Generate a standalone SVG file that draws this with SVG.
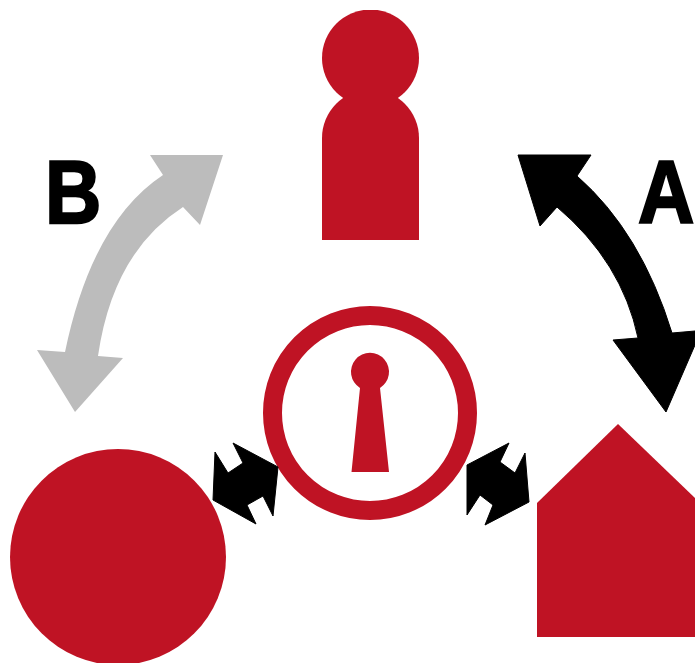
<svg xmlns="http://www.w3.org/2000/svg" width="695" height="663" viewBox="0 0 695 663">
<style>
.red{fill:#bf1324}
.blk{fill:#000;stroke:#000;stroke-width:1px;stroke-linejoin:miter}
.lbl{font-family:"Liberation Sans",Arial,sans-serif;font-weight:bold;font-size:78px;fill:#000;stroke:#000;stroke-width:2px}
</style>
<defs><clipPath id="top"><rect x="0" y="10" width="695" height="653"/></clipPath></defs>
<rect width="695" height="663" fill="#fff"/>
<g id="person" clip-path="url(#top)">
<circle class="red" cx="370.500" cy="58" r="48.500"/>
<path class="red" d="M322 240V138A48.500 48.500 0 0 1 419 138V240Z"/>
<rect class="red" x="350" y="85" width="41" height="30"/>
</g>
<g id="lock">
<circle cx="370" cy="413" r="97.500" fill="none" stroke="#bf1324" stroke-width="19"/>
<path class="red" d="M351.500 472L360 388A19 19 0 1 1 380 388L389 472Z"/>
</g>
<g id="circle-node">
<circle class="red" cx="118" cy="557" r="108"/>
</g>
<g id="house">
<path class="red" d="M537 503L618 424L695 498V637H537Z"/>
</g>
<g id="connectors">
<path class="blk" d="M518 155H591L577 176Q641 232 672 333L695 331V345L666 412L613 340L638 338Q622 262 557 207L540 226Z"/>
<path fill="#bcbcbc" d="M223 155H150L163 175Q92 222 65 352L37 350L75 412L123 358L98 356Q113 252 183 207L200 225Z"/>
<path class="blk" d="M233 443L278 467L273 516L263 496L247 505L256 524L213 500L215 452L228 473L243 463Z"/>
<path class="blk" d="M509 443L467 465L467 515L480 495L493 505L485 525L529 502L525 453L515 473L500 462Z"/>
</g>
<g id="labels">
<text class="lbl" transform="translate(45 223) scale(1 1.14)">B</text>
<text class="lbl" transform="translate(638 223) scale(1 1.14)">A</text>
</g>
</svg>
